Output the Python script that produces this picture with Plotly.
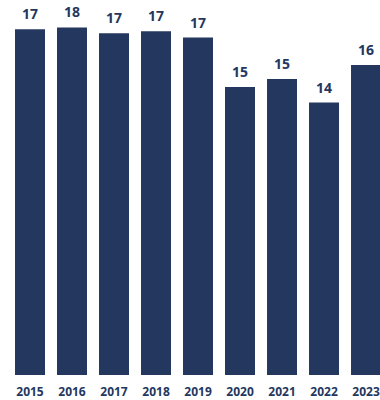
import plotly.graph_objects as go

years = ["2015", "2016", "2017", "2018", "2019", "2020", "2021", "2022", "2023"]
values = [17.42, 17.52, 17.22, 17.32, 17.01, 14.51, 14.92, 13.73, 15.63]

bar_color = "#24375f"
text_color = "#24375f"
font_family = "'Open Sans', sans-serif"

fig = go.Figure()
fig.add_trace(go.Bar(
    x=list(range(len(years))), y=values,
    marker=dict(color=bar_color, line=dict(width=0)),
    width=0.714,
    hoverinfo="skip",
))

for i, v in enumerate(values):
    fig.add_annotation(
        x=i, y=v, text=f"<b>{round(v)}</b>",
        showarrow=False, yanchor="bottom", yshift=4,
        font=dict(family=font_family, size=14, color=text_color),
    )

fig.update_layout(
    width=380, height=400,
    margin=dict(l=9, r=0, t=0, b=22),
    paper_bgcolor="white", plot_bgcolor="white",
    showlegend=False,
    xaxis=dict(
        range=[-0.5, 8.333],
        tickmode="array", tickvals=list(range(len(years))), ticktext=years,
        showgrid=False, zeroline=False, showline=False, ticks="",
        tickfont=dict(family=font_family, size=12, color=text_color, weight="bold"),
        ticklabelstandoff=8,
    ),
    yaxis=dict(range=[0, 18.9], visible=False, showgrid=False, zeroline=False),
)

fig.write_html("out.html")
